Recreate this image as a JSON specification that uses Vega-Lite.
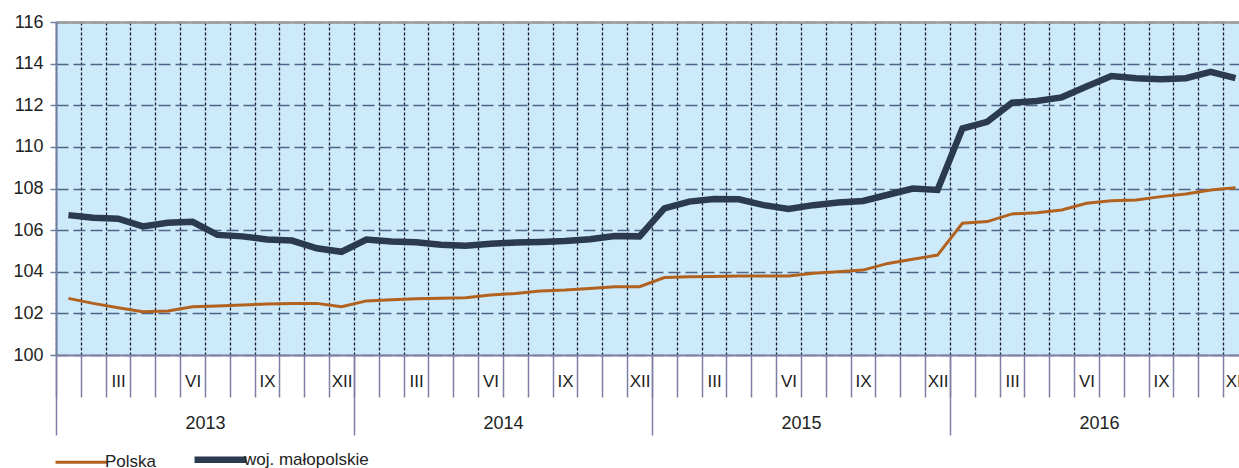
{
  "$schema": "https://vega.github.io/schema/vega-lite/v6.json",
  "autosize": {"type": "none"},
  "width": 1183,
  "height": 333,
  "padding": {"left": 56, "top": 22, "right": 0, "bottom": 113},
  "background": "white",
  "config": {
    "view": {"fill": "#cceafa", "stroke": null},
    "font": "Liberation Sans",
    "axis": {"labelFont": "Liberation Sans", "labelColor": "#222222"}
  },
  "data": {"values": [
    {"t":1,"s":"Polska","v":102.72},{"t":2,"s":"Polska","v":102.48},{"t":3,"s":"Polska","v":102.27},{"t":4,"s":"Polska","v":102.08},{"t":5,"s":"Polska","v":102.11},{"t":6,"s":"Polska","v":102.32},{"t":7,"s":"Polska","v":102.35},{"t":8,"s":"Polska","v":102.4},{"t":9,"s":"Polska","v":102.45},{"t":10,"s":"Polska","v":102.48},{"t":11,"s":"Polska","v":102.48},{"t":12,"s":"Polska","v":102.32},
    {"t":13,"s":"Polska","v":102.6},{"t":14,"s":"Polska","v":102.65},{"t":15,"s":"Polska","v":102.7},{"t":16,"s":"Polska","v":102.73},{"t":17,"s":"Polska","v":102.75},{"t":18,"s":"Polska","v":102.88},{"t":19,"s":"Polska","v":102.96},{"t":20,"s":"Polska","v":103.08},{"t":21,"s":"Polska","v":103.12},{"t":22,"s":"Polska","v":103.2},{"t":23,"s":"Polska","v":103.28},{"t":24,"s":"Polska","v":103.28},
    {"t":25,"s":"Polska","v":103.72},{"t":26,"s":"Polska","v":103.76},{"t":27,"s":"Polska","v":103.77},{"t":28,"s":"Polska","v":103.8},{"t":29,"s":"Polska","v":103.8},{"t":30,"s":"Polska","v":103.8},{"t":31,"s":"Polska","v":103.93},{"t":32,"s":"Polska","v":104.0},{"t":33,"s":"Polska","v":104.08},{"t":34,"s":"Polska","v":104.4},{"t":35,"s":"Polska","v":104.6},{"t":36,"s":"Polska","v":104.8},
    {"t":37,"s":"Polska","v":106.33},{"t":38,"s":"Polska","v":106.41},{"t":39,"s":"Polska","v":106.78},{"t":40,"s":"Polska","v":106.84},{"t":41,"s":"Polska","v":106.97},{"t":42,"s":"Polska","v":107.29},{"t":43,"s":"Polska","v":107.41},{"t":44,"s":"Polska","v":107.45},{"t":45,"s":"Polska","v":107.61},{"t":46,"s":"Polska","v":107.74},{"t":47,"s":"Polska","v":107.93},{"t":48,"s":"Polska","v":108.04},
    {"t":1,"s":"woj. małopolskie","v":106.72},{"t":2,"s":"woj. małopolskie","v":106.6},{"t":3,"s":"woj. małopolskie","v":106.55},{"t":4,"s":"woj. małopolskie","v":106.18},{"t":5,"s":"woj. małopolskie","v":106.35},{"t":6,"s":"woj. małopolskie","v":106.4},{"t":7,"s":"woj. małopolskie","v":105.77},{"t":8,"s":"woj. małopolskie","v":105.7},{"t":9,"s":"woj. małopolskie","v":105.55},{"t":10,"s":"woj. małopolskie","v":105.5},{"t":11,"s":"woj. małopolskie","v":105.13},{"t":12,"s":"woj. małopolskie","v":104.96},
    {"t":13,"s":"woj. małopolskie","v":105.55},{"t":14,"s":"woj. małopolskie","v":105.45},{"t":15,"s":"woj. małopolskie","v":105.42},{"t":16,"s":"woj. małopolskie","v":105.3},{"t":17,"s":"woj. małopolskie","v":105.25},{"t":18,"s":"woj. małopolskie","v":105.35},{"t":19,"s":"woj. małopolskie","v":105.4},{"t":20,"s":"woj. małopolskie","v":105.43},{"t":21,"s":"woj. małopolskie","v":105.48},{"t":22,"s":"woj. małopolskie","v":105.56},{"t":23,"s":"woj. małopolskie","v":105.72},{"t":24,"s":"woj. małopolskie","v":105.7},
    {"t":25,"s":"woj. małopolskie","v":107.05},{"t":26,"s":"woj. małopolskie","v":107.37},{"t":27,"s":"woj. małopolskie","v":107.5},{"t":28,"s":"woj. małopolskie","v":107.48},{"t":29,"s":"woj. małopolskie","v":107.2},{"t":30,"s":"woj. małopolskie","v":107.02},{"t":31,"s":"woj. małopolskie","v":107.2},{"t":32,"s":"woj. małopolskie","v":107.33},{"t":33,"s":"woj. małopolskie","v":107.4},{"t":34,"s":"woj. małopolskie","v":107.7},{"t":35,"s":"woj. małopolskie","v":108.0},{"t":36,"s":"woj. małopolskie","v":107.93},
    {"t":37,"s":"woj. małopolskie","v":110.88},{"t":38,"s":"woj. małopolskie","v":111.2},{"t":39,"s":"woj. małopolskie","v":112.12},{"t":40,"s":"woj. małopolskie","v":112.2},{"t":41,"s":"woj. małopolskie","v":112.38},{"t":42,"s":"woj. małopolskie","v":112.9},{"t":43,"s":"woj. małopolskie","v":113.4},{"t":44,"s":"woj. małopolskie","v":113.3},{"t":45,"s":"woj. małopolskie","v":113.25},{"t":46,"s":"woj. małopolskie","v":113.3},{"t":47,"s":"woj. małopolskie","v":113.6},{"t":48,"s":"woj. małopolskie","v":113.3}
  ]},
  "resolve": {"axis": {"x": "independent"}},
  "layer": [
    {
      "mark": {"type": "point", "opacity": 0},
      "encoding": {
        "x": {"field": "t", "type": "quantitative",
          "scale": {"domain": [0.5, 48.14], "nice": false, "zero": false},
          "axis": {"orient": "top", "title": null, "ticks": false, "labels": false, "grid": false, "domainColor": "#9a9a9a", "domainWidth": 2.5}}
      }
    },
    {
      "mark": {"type": "point", "opacity": 0},
      "encoding": {
        "x": {"field": "t", "type": "quantitative",
          "axis": {"orient": "bottom", "title": null, "values": [0.5, 12.5, 24.5, 36.5],
            "grid": false, "domain": false, "ticks": true, "tickSize": 80, "tickColor": "#7e7ea6", "tickWidth": 1.5, "labels": false}}
      }
    },
    {
      "mark": {"type": "point", "opacity": 0},
      "encoding": {
        "x": {"field": "t", "type": "quantitative",
          "axis": {"orient": "bottom", "title": null, "values": [3, 6, 9, 12, 15, 18, 21, 24, 27, 30, 33, 36, 39, 42, 45, 48],
            "grid": false, "domain": false, "ticks": false, "tickSize": 0,
            "labelExpr": "datum.value % 12 == 3 ? 'III' : datum.value % 12 == 6 ? 'VI' : datum.value % 12 == 9 ? 'IX' : 'XII'",
            "labelPadding": 18, "labelBaseline": "top", "labelAlign": "center", "labelFontSize": 17, "labelOverlap": false, "labelFlush": false}}
      }
    },
    {
      "mark": {"type": "point", "opacity": 0},
      "encoding": {
        "x": {"field": "t", "type": "quantitative",
          "axis": {"orient": "bottom", "title": null, "values": [6.5, 18.5, 30.5, 42.5],
            "grid": false, "domain": false, "ticks": false, "tickSize": 0,
            "labelExpr": "'' + (2013 + floor(datum.value / 12))",
            "labelPadding": 59, "labelBaseline": "top", "labelAlign": "center", "labelFontSize": 18, "labelOverlap": false, "labelFlush": false}}
      }
    },
    {
      "transform": [{"filter": "datum.s == 'woj. małopolskie'"}],
      "mark": {"type": "line", "strokeWidth": 6.5},
      "encoding": {
        "x": {"field": "t", "type": "quantitative",
          "axis": {"orient": "bottom", "title": null, "values": [0.5, 1.5, 2.5, 3.5, 4.5, 5.5, 6.5, 7.5, 8.5, 9.5, 10.5, 11.5, 12.5, 13.5, 14.5, 15.5, 16.5, 17.5, 18.5, 19.5, 20.5, 21.5, 22.5, 23.5, 24.5, 25.5, 26.5, 27.5, 28.5, 29.5, 30.5, 31.5, 32.5, 33.5, 34.5, 35.5, 36.5, 37.5, 38.5, 39.5, 40.5, 41.5, 42.5, 43.5, 44.5, 45.5, 46.5, 47.5],
            "grid": true, "gridColor": "#1b1b2b", "gridDash": [3, 2], "gridWidth": 1.3,
            "ticks": true, "tickSize": 42, "tickColor": "#7e7ea6", "tickWidth": 1.5, "domainColor": "#7e7ea6", "domainWidth": 2, "labels": false}},
        "y": {"field": "v", "type": "quantitative",
          "scale": {"domain": [100, 116], "nice": false, "zero": false},
          "axis": {"title": null, "values": [100, 102, 104, 106, 108, 110, 112, 114, 116], "grid": true, "gridDash": [12, 5], "gridColor": "#4f6486", "gridWidth": 1.3,
            "tickSize": 6, "tickColor": "#6f7fa0", "tickWidth": 1.5, "domainColor": "#6f7fa0", "domainWidth": 2,
            "labelPadding": 7, "labelFontSize": 18}},
        "color": {"field": "s", "type": "nominal",
          "scale": {"domain": ["Polska", "woj. małopolskie"], "range": ["#b2621f", "#2c3a50"]},
          "legend": {"title": null, "orient": "none", "legendX": 17, "legendY": 429, "direction": "horizontal",
            "symbolType": "stroke", "symbolSize": 2700, "labelFontSize": 17, "labelColor": "#222222",
            "columnPadding": 24, "labelOffset": 15,
            "encode": {"symbols": {"update": {"strokeWidth": {"signal": "datum.value == 'Polska' ? 3 : 6.5"}}}}}}
      }
    },
    {
      "transform": [{"filter": "datum.s == 'Polska'"}],
      "mark": {"type": "line", "strokeWidth": 3},
      "encoding": {
        "x": {"field": "t", "type": "quantitative", "axis": null},
        "y": {"field": "v", "type": "quantitative"},
        "color": {"field": "s", "type": "nominal"}
      }
    }
  ]
}
